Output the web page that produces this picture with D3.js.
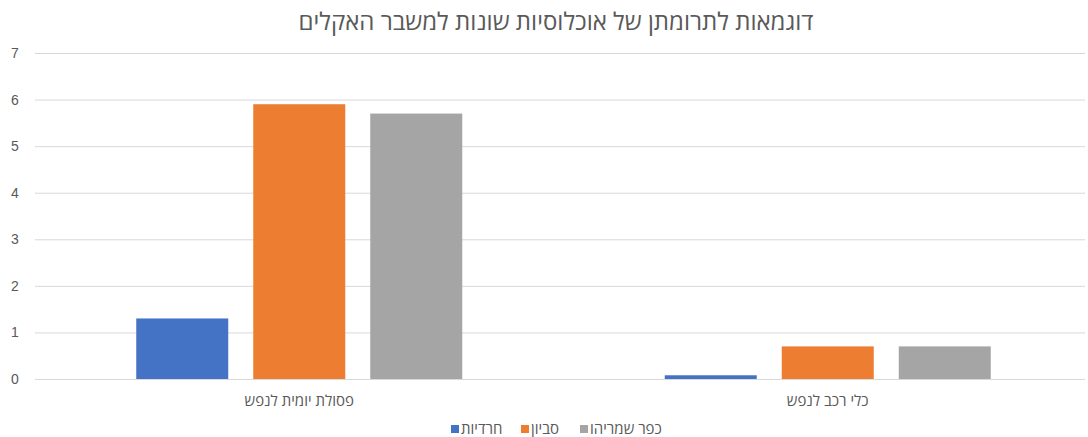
<!DOCTYPE html>
<html><head><meta charset="utf-8">
<script src="https://cdn.jsdelivr.net/npm/d3@7"></script>
<style>body{margin:0;background:#fff}svg{display:block;font-family:"Open Sans","Noto Sans","DejaVu Sans",sans-serif}</style>
</head><body><svg id="c" width="1088" height="437"></svg>
<script>
const title = "דוגמאות לתרומתן של אוכלוסיות שונות למשבר האקלים";
const categories = ["פסולת יומית לנפש", "כלי רכב לנפש"];
const seriesNames = ["חרדיות", "סביון", "כפר שמריהו"];
const seriesColors = ["#4472C4", "#ED7D31", "#A5A5A5"];
const haredim = [1.3, 0.08];
const savyon = [5.9, 0.7];
const kfarShmaryahu = [5.7, 0.7];
const yTicks = [0, 1, 2, 3, 4, 5, 6, 7];
const seriesValues = [haredim, savyon, kfarShmaryahu];

const svg = d3.select("#c");
const y = d3.scaleLinear().domain([0, 7]).range([379, 53]);
const x0 = d3.scaleBand().domain(categories).range([35, 1092]).paddingInner(0).paddingOuter(0);
const groupW = 326;
const x1 = d3.scaleBand().domain(seriesNames).range([0, groupW]).paddingInner(0.2137).paddingOuter(0);
const groupOffset = (x0.bandwidth() - groupW) / 2;

svg.append("text").attr("x", 556).attr("y", 30).attr("text-anchor", "middle")
  .attr("font-size", 24).attr("fill", "#595959").text(title);

const yAxis = d3.axisLeft(y).tickValues(yTicks).tickFormat(d3.format("d")).tickSize(-(1085 - 35)).tickPadding(0);
const ga = svg.append("g").attr("transform", "translate(35,0)").call(yAxis);
ga.select(".domain").remove();
ga.selectAll(".tick line").attr("stroke", "#D9D9D9").attr("stroke-width", 1);
ga.selectAll(".tick text").attr("fill", "#595959").attr("font-size", 14).attr("text-anchor", "middle").attr("x", -20);

categories.forEach((c, ci) => {
  const g = svg.append("g").attr("transform", `translate(${x0(c) + groupOffset},0)`);
  seriesNames.forEach((s, si) => {
    const v = seriesValues[si][ci];
    g.append("rect").attr("x", x1(s)).attr("width", x1.bandwidth())
      .attr("y", y(v)).attr("height", y(0) - y(v)).attr("fill", seriesColors[si]);
  });
  svg.append("text").attr("x", x0(c) + x0.bandwidth() / 2).attr("y", 406)
    .attr("text-anchor", "middle").attr("font-size", 15).attr("fill", "#595959").text(c);
});

// legend
const lg = svg.append("g");
const legendX = [451, 521, 580];
seriesNames.forEach((s, i) => {
  lg.append("rect").attr("x", legendX[i]).attr("y", 425).attr("width", 8).attr("height", 8).attr("fill", seriesColors[i]);
  lg.append("text").attr("x", legendX[i] + 10).attr("y", 434).attr("font-size", 15)
    .attr("fill", "#595959").attr("text-anchor", "start").attr("direction", "ltr").text(s);
});
</script></body></html>
